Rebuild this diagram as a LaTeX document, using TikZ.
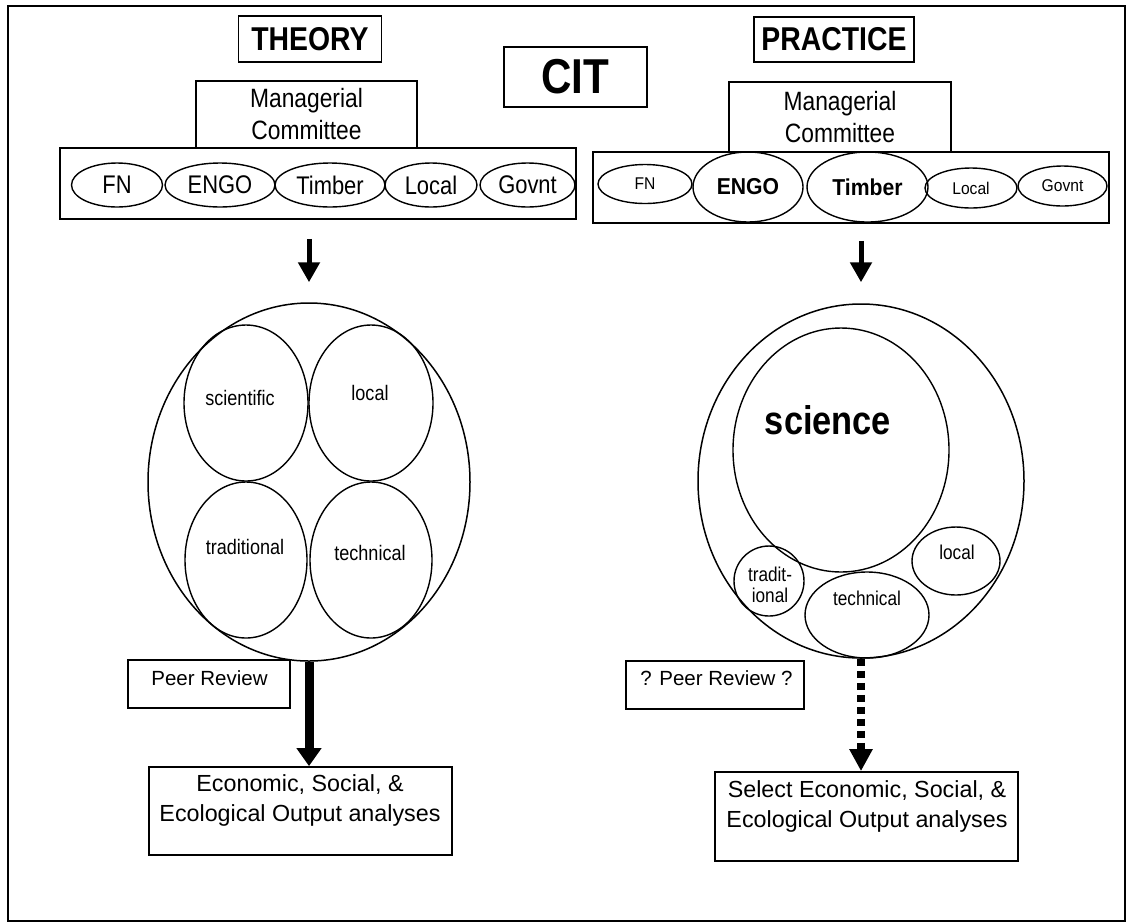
\documentclass[tikz,border=0pt]{standalone}
\usepackage{fontspec}
\setmainfont{Liberation Sans}
\newfontfamily\cond{Liberation Sans}[FakeStretch=0.86]
\newfontfamily\semicond{Liberation Sans}[FakeStretch=0.92]
\usetikzlibrary{shapes.geometric,arrows.meta}
\newcommand\fsz[2]{\fontsize{#1}{#2}\selectfont}

\begin{document}
\begin{tikzpicture}[x=1pt,y=-1pt,
  box/.style={draw,line width=1.8pt,inner sep=0pt},
  oval/.style={draw,ellipse,line width=1.4pt,inner sep=0pt},
  bigoval/.style={draw,ellipse,line width=1.5pt,inner sep=0pt},
  title/.style={font=\cond\bfseries\fsz{33}{36}},
  mgr/.style={font=\cond\fsz{26.5}{32},align=center},
  party/.style={font=\cond\fsz{25.5}{28}},
  partybig/.style={font=\semicond\bfseries\fsz{23}{26}},
  partysmall/.style={font=\semicond\fsz{17}{20}},
  knowl/.style={font=\cond\fsz{21}{24}},
  knowlsm/.style={font=\cond\fsz{20}{21},align=center},
  plain/.style={font=\fsz{20.5}{22}},
  outtxt/.style={font=\fsz{23.3}{30},align=center},
  downarrow/.style={line width=5pt,-{Triangle[width=21pt,length=20pt]}},
  fatarrow/.style={line width=9pt,-{Triangle[width=24pt,length=18pt]}},
  dotarrow/.style={line width=7.5pt,dash pattern=on 7pt off 5pt,-{Triangle[width=22pt,length=22pt]}}]
\useasboundingbox (0,0) rectangle (1126,922);

% outer frame
\draw[line width=2pt] (8,6) rectangle (1125,921);

% headings
\node[box,title,minimum width=143pt,minimum height=46pt] (theory) at (310,39) {THEORY};
\node[box,title,minimum width=160pt,minimum height=45pt] (practice) at (834,39.5) {PRACTICE};
\node[box,font=\cond\bfseries\fsz{49}{52},minimum width=143pt,minimum height=60pt] (cit) at (575.5,77) {CIT};

% ---- theory side: committee ----
\node[box,minimum width=516pt,minimum height=71pt] (lstake) at (318,183.5) {};
\node[box,mgr,minimum width=221pt,minimum height=67pt] (lmgr) at (306.5,114.5) {Managerial\\Committee};
\node[oval,party,minimum width=91pt,minimum height=44pt] (lfn) at (117,185) {FN};
\node[oval,party,minimum width=110pt,minimum height=44pt] (lengo) at (220,185) {ENGO};
\node[oval,party,minimum width=110pt,minimum height=44pt] (ltimber) at (330,185) {Timber};
\node[oval,party,minimum width=92pt,minimum height=44pt] (llocal) at (431,185) {Local};
\node[oval,party,minimum width=95pt,minimum height=44pt] (lgovnt) at (527.5,185) {Govnt};

% ---- practice side: committee ----
\node[box,minimum width=516pt,minimum height=71pt] (rstake) at (851,187.5) {};
\node[box,mgr,minimum width=222pt,minimum height=70pt] (rmgr) at (840,117) {Managerial\\Committee};
\node[oval,partysmall,minimum width=94pt,minimum height=39pt] (rfn) at (645,184) {FN};
\node[oval,partybig,minimum width=110pt,minimum height=70pt] (rengo) at (748,187) {ENGO};
\node[oval,partybig,minimum width=121pt,minimum height=70pt] (rtimber) at (867.5,187) {Timber};
\node[oval,partysmall,minimum width=92pt,minimum height=40pt] (rlocal) at (971,188) {Local};
\node[oval,partysmall,minimum width=89pt,minimum height=40pt] (rgovnt) at (1062.5,186) {Govnt};

% ---- theory side: knowledge ----
\node[bigoval,minimum width=322pt,minimum height=358pt] (lbig) at (309,482) {};
\node[oval,minimum width=124pt,minimum height=156pt] (lsci) at (246,403) {};
\node[oval,minimum width=124pt,minimum height=156pt] (lloc) at (371,403) {};
\node[oval,minimum width=122pt,minimum height=156pt] (ltrad) at (246,560) {};
\node[oval,minimum width=122pt,minimum height=156pt] (ltech) at (371,560) {};
\node[knowl] (lscit) at (240,398) {scientific};
\node[knowl] (lloct) at (370,393) {local};
\node[knowl] (ltradt) at (245,547) {traditional};
\node[knowl] (ltecht) at (370,553) {technical};

% ---- practice side: knowledge ----
\node[bigoval,minimum width=326pt,minimum height=354pt] (rbig) at (861,481) {};
\node[oval,minimum width=216pt,minimum height=244pt] (rsci) at (841,450) {};
\node[oval,minimum width=70pt,minimum height=70pt] (rtrad) at (769,581) {};
\node[oval,minimum width=124pt,minimum height=86pt] (rtech) at (867,615) {};
\node[oval,minimum width=88pt,minimum height=68pt] (rloc) at (956,561) {};
\node[font=\cond\bfseries\fsz{40}{44}] (rscit) at (828,420) {science};
\node[knowlsm] (rtradt) at (770,585) {tradit-\\ional};
\node[knowlsm] (rtecht) at (867,598) {technical};
\node[knowlsm] (rloct) at (957,552) {local};

% ---- review and outputs ----
\node[box,minimum width=162pt,minimum height=48pt] (lpeer) at (209,684) {};
\node[plain] (lpeert) at (209.5,678) {Peer Review};
\node[box,minimum width=178pt,minimum height=48pt] (rpeer) at (715,685) {};
\node[plain] (rpeert) at (716.5,678) {? Peer Review ?};

\node[box,minimum width=303pt,minimum height=88pt] (lout) at (300.5,811) {};
\node[outtxt] (loutt) at (300,800) {Economic, Social, \&\\Ecological Output analyses};
\node[box,minimum width=303pt,minimum height=89pt] (rout) at (866.5,816.5) {};
\node[outtxt] (routt) at (867,806) {Select Economic, Social, \&\\Ecological Output analyses};

% ---- connectors ----
\draw[downarrow,shorten <=19pt,shorten >=20pt] (lbig.north |- lstake.south) -- (lbig.north);
\draw[downarrow,shorten <=17pt,shorten >=21pt] (rbig.north |- rstake.south) -- (rbig.north);
\draw[fatarrow] (lbig.south) -- (lbig.south |- lout.north);
\draw[dotarrow] (rbig.south) -- (rbig.south |- rout.north);
\end{tikzpicture}
\end{document}
